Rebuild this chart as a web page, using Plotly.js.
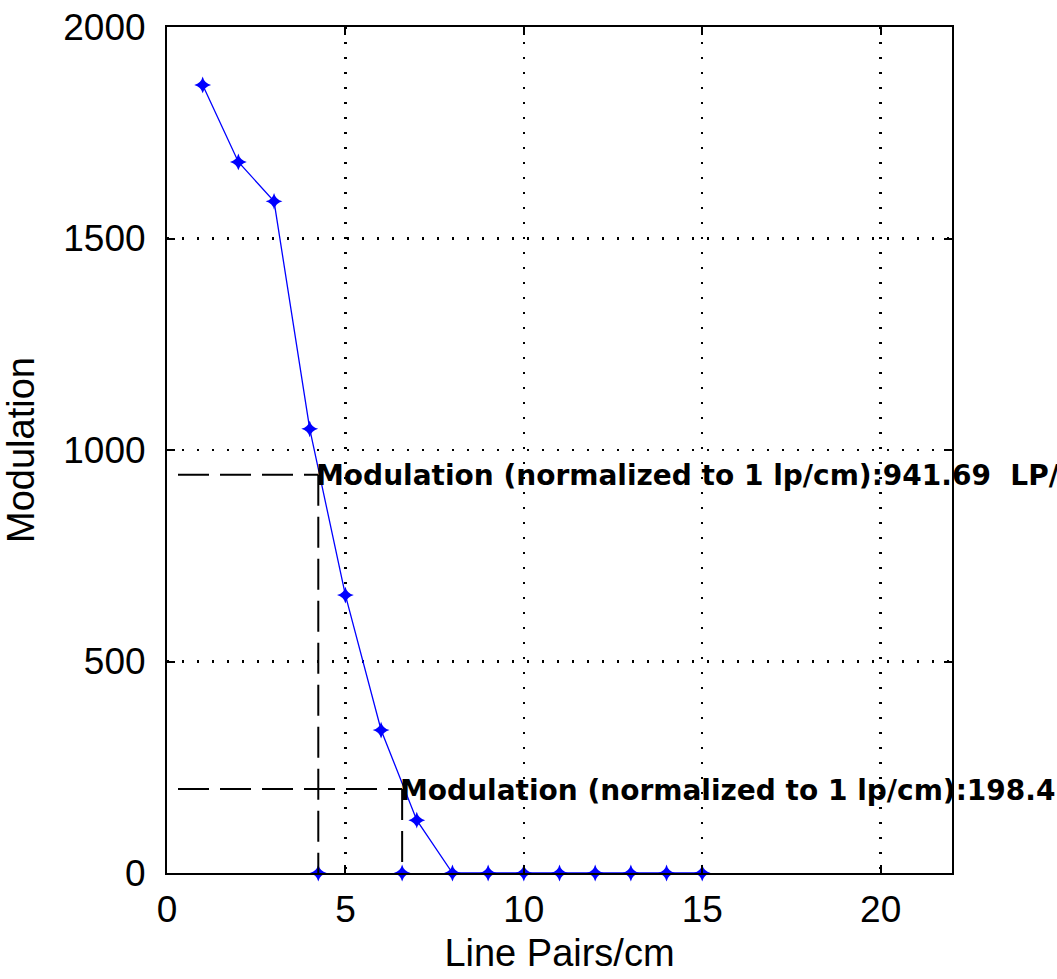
<!DOCTYPE html>
<html><head><meta charset="utf-8">
<script src="https://cdn.plot.ly/plotly-3.0.1.min.js"></script>
<style>html,body{margin:0;padding:0;background:#fff;}#chart{width:1057px;height:979px;}</style>
</head><body><div id="chart"></div>
<script>
const lpX = [1,2,3,4,5,6,7,8,9,10,11,12,13,14,15];
const modY = [1863,1681,1588,1050,657,338,125,0,0,0,0,0,0,0,0];
const cutX = [4.24, 6.59];
const cutY = [941.69, 198.4];
const cutLabels = ["Modulation (normalized to 1 lp/cm):941.69  LP/cm", "Modulation (normalized to 1 lp/cm):198.4  LP/cm"];
const xTicks = [0,5,10,15,20];
const yTicks = [0,500,1000,1500,2000];

const traces = [
  {x: lpX, y: modY, mode: 'lines+markers', type: 'scatter',
   line: {color: '#0000ff', width: 1.3},
   marker: {symbol: 'star-diamond', size: 12, color: '#0000ff'}, cliponaxis: false},
  {x: cutX, y: cutX.map(() => 0), mode: 'markers', type: 'scatter',
   marker: {symbol: 'star-diamond', size: 12, color: '#0000ff'}, cliponaxis: false}
];
const shapes = [];
cutX.forEach((cx, i) => {
  shapes.push({type: 'line', xref: 'x', yref: 'y', x0: 0, x1: cx, y0: cutY[i], y1: cutY[i],
               line: {color: '#000', width: 2, dash: '0px,11px,31px,0px'}});
  shapes.push({type: 'line', xref: 'x', yref: 'y', x0: cx, x1: cx, y0: cutY[i], y1: 0,
               line: {color: '#000', width: 2, dash: '31px,11px'}});
});
const annotations = cutX.map((cx, i) => ({
  x: cx, y: cutY[i], xref: 'x', yref: 'y', text: '<b>' + cutLabels[i] + '</b>',
  showarrow: false, xanchor: 'left', yanchor: 'middle', xshift: -4, yshift: -1,
  font: {family: 'DejaVu Sans, sans-serif', size: 28, color: '#000'}
}));
const axCommon = {
  showline: true, linecolor: '#000', linewidth: 2, mirror: 'ticks',
  ticks: 'inside', ticklen: 8, tickwidth: 2, tickcolor: '#000',
  showgrid: true, gridcolor: '#000', gridwidth: 2.5, griddash: '2px,13px',
  zeroline: false,
  tickfont: {family: 'Liberation Sans, Arial, sans-serif', size: 37, color: '#000'}
};
const titleFont = {family: 'Liberation Sans, Arial, sans-serif', size: 38, color: '#000'};
const layout = {
  width: 1057, height: 979,
  margin: {l: 167, r: 105, t: 27, b: 106},
  paper_bgcolor: '#fff', plot_bgcolor: '#fff',
  showlegend: false,
  xaxis: Object.assign({}, axCommon, {range: [0, 22], tickvals: xTicks, ticklabelstandoff: 3,
    title: {text: 'Line Pairs/cm', standoff: 10, font: titleFont}}),
  yaxis: Object.assign({}, axCommon, {range: [0, 2000], tickvals: yTicks, ticklabelstandoff: 12,
    title: {text: 'Modulation', standoff: 21, font: titleFont}}),
  shapes: shapes, annotations: annotations
};
Plotly.newPlot('chart', traces, layout, {displayModeBar: false, staticPlot: true});
</script></body></html>
